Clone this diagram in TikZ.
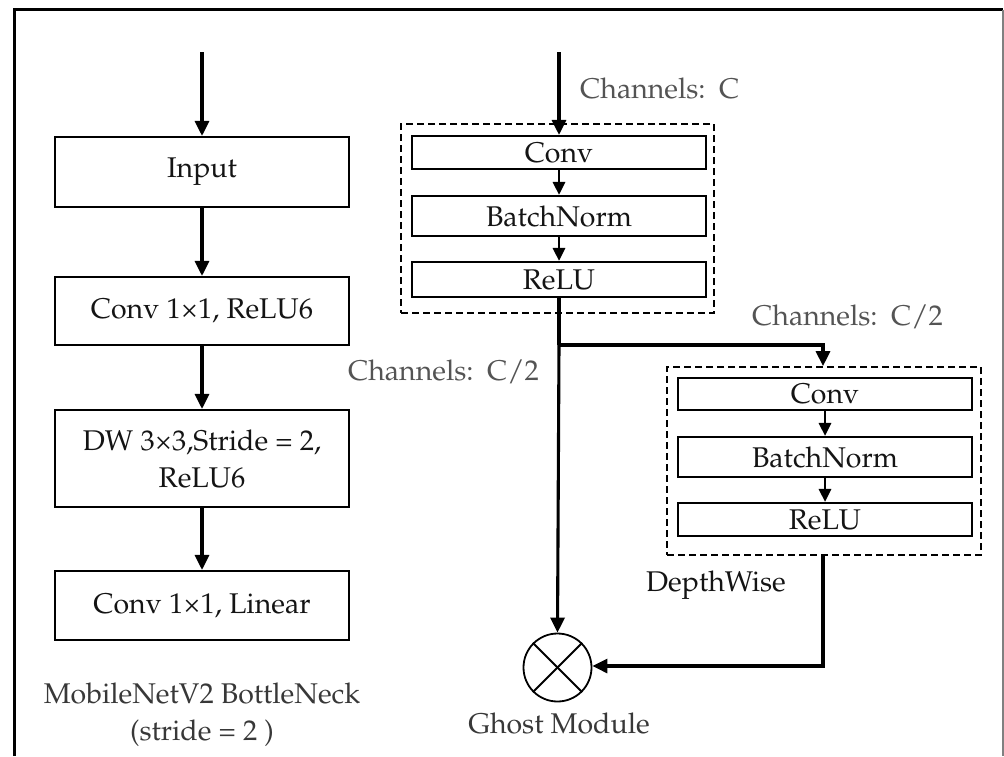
\documentclass[tikz,border=0pt]{standalone}
\usepackage[T1]{fontenc}
\usepackage{mathpazo}
\usetikzlibrary{arrows.meta}
\definecolor{lblgray}{gray}{0.33}
\definecolor{capgray}{gray}{0.22}
\newcommand{\diagfont}{\fontsize{28.5}{37}\selectfont}
\newcommand{\by}{\texttimes}
\tikzset{
  blk/.style={draw, line width=2.1pt, minimum width=294pt, inner sep=0pt, font=\diagfont, text=black!92},
  dbox/.style={draw, line width=1.7pt, dash pattern=on 7pt off 4pt, inner sep=0pt},
  flow/.style={line width=3.1pt, -{Triangle[width=14pt,length=15pt]}},
  sflow/.style={line width=2.8pt, -{Triangle[width=12pt,length=13pt]}},
  wire/.style={line width=3.1pt},
  note/.style={font=\diagfont, text=lblgray, inner sep=0pt},
}
\begin{document}
\begin{tikzpicture}[x=1pt,y=-1pt]
\useasboundingbox (0,0) rectangle (1004,756);
% outer frame
\draw[line width=3pt] (14,756) -- (14,9.5) -- (1003,9.5);
\draw[line width=1.5pt, gray] (1003,9.5) -- (1003,756);

% ---- MobileNetV2 bottleneck ----
\coordinate (lin) at (202,52);
\node[blk, minimum height=70pt] (input) at (202,172) {Input};
\node[blk, minimum height=68pt] (c1) at (202,311) {Conv 1\by1, ReLU6};
\node[blk, minimum height=97pt, align=center] (dw) at (202,458.5) {DW 3\by3,Stride = 2,\\ReLU6};
\node[blk, minimum height=69pt] (c2) at (202,605.5) {Conv 1\by1, Linear};
\draw[flow] (lin) -- (input.north);
\draw[flow] (input) -- (c1);
\draw[flow] (c1) -- (dw);
\draw[flow] (dw) -- (c2);
\node[font=\diagfont, text=capgray, align=center, inner sep=0pt] (cap) at (202,715) {MobileNetV2 BottleNeck\\(stride = 2 )};

% ---- Ghost module: primary branch ----
\coordinate (rin) at (559,52);
\node[dbox, minimum width=313pt, minimum height=189pt] (g1) at (557.5,218.5) {};
\node[blk, minimum height=33pt] (conv1) at (559,152.5) {Conv};
\node[blk, minimum height=40pt] (bn1) at (559,216) {BatchNorm};
\node[blk, minimum height=35pt] (relu1) at (559,279.5) {ReLU};
\draw[flow] (rin) -- (conv1.north);
\draw[sflow] (conv1) -- (bn1);
\draw[sflow] (bn1) -- (relu1);
\node[note, anchor=west] (chC) at (580,88) {Channels:\, C};

% ---- Ghost module: depthwise branch ----
\node[dbox, minimum width=314pt, minimum height=188pt] (g2) at (824,461) {};
\node[blk, minimum height=32pt] (conv2) at (825,394) {Conv};
\node[blk, minimum height=40pt] (bn2) at (825,457) {BatchNorm};
\node[blk, minimum height=33pt] (relu2) at (825,519.5) {ReLU};
\draw[sflow] (conv2) -- (bn2);
\draw[sflow] (bn2) -- (relu2);
\node[note, anchor=west] (chR) at (752,317) {Channels:\, C/2};
\node[note, anchor=west] (chL) at (348,372) {Channels:\, C/2};
\node[font=\diagfont, text=black!92, inner sep=0pt] (dwl) at (716,585) {DepthWise};

% ---- merge ----
\node[draw, circle, line width=1.8pt, minimum size=68pt, inner sep=0pt] (mul) at (557.5,667.5) {};
\draw[line width=1.8pt] (mul.north west) -- (mul.south east);
\draw[line width=1.8pt] (mul.north east) -- (mul.south west);
\node[font=\diagfont, text=capgray, inner sep=0pt] (ghost) at (559,723) {Ghost Module};

\coordinate (split) at (559,345);
\coordinate (split2) at (823,345);
\coordinate (back) at (823,666);
\draw[wire] (relu1.south) -- (split);
\draw[flow] (split) -- (mul.north);
\draw[flow] (split) -- (split2) -- (g2.north -| split2);
\draw[flow] (g2.south -| back) -- (back) -- (mul.east |- back);
\end{tikzpicture}
\end{document}
